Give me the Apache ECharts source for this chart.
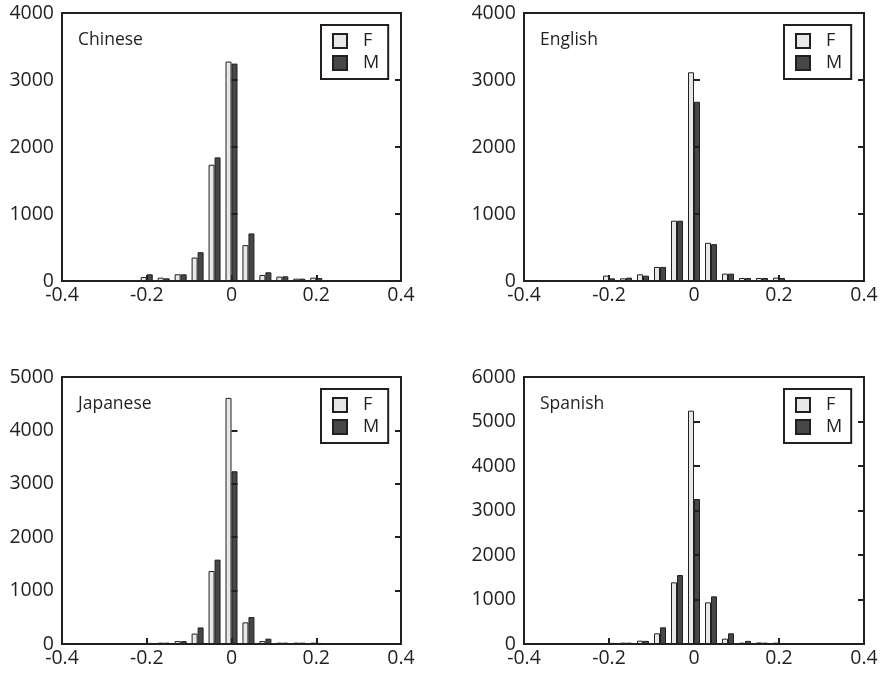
<!DOCTYPE html>
<html>
<head>
<meta charset="utf-8">
<script src="https://cdn.jsdelivr.net/npm/echarts@6/dist/echarts.min.js"></script>
<style>
  html, body { margin: 0; padding: 0; background: #ffffff; }
  #chart { width: 884px; height: 673px; }
</style>
</head>
<body>
<div id="chart"></div>
<script>
// Histogram bin centres (shared by all four panels)
const bins = [-0.2, -0.16, -0.12, -0.08, -0.04, 0, 0.04, 0.08, 0.12, 0.16, 0.2];
const xTicks = [-0.4, -0.2, 0, 0.2, 0.4];

// Panel names
const languages = ['Chinese', 'English', 'Japanese', 'Spanish'];

// Counts per bin, female (F) and male (M)
const chineseF  = [60, 50, 100, 350, 1735, 3275, 535, 90, 65, 35, 50];
const chineseM  = [100, 40, 100, 430, 1845, 3245, 710, 130, 70, 35, 45];
const englishF  = [80, 40, 100, 210, 900, 3115, 570, 110, 45, 45, 50];
const englishM  = [40, 50, 80, 210, 900, 2675, 550, 110, 45, 45, 45];
const japaneseF = [15, 25, 55, 195, 1367, 4608, 405, 55, 25, 25, 25];
const japaneseM = [20, 25, 55, 310, 1580, 3235, 505, 100, 25, 25, 20];
const spanishF  = [15, 30, 75, 240, 1385, 5243, 936, 120, 30, 35, 30];
const spanishM  = [25, 30, 70, 375, 1550, 3258, 1071, 240, 70, 30, 20];

// Upper limit of each panel's count axis
const yMax = [4000, 4000, 5000, 6000];

const seriesF = [chineseF, englishF, japaneseF, spanishF];
const seriesM = [chineseM, englishM, japaneseM, spanishM];

const ink = '#231f20';
const font = '"Open Sans", "DejaVu Sans", sans-serif';
const tickFont = 19.5;

// Plot rectangles for the 2x2 layout
const rects = [
  { left: 62,  top: 13,  width: 339, height: 268 },
  { left: 524, top: 13,  width: 340, height: 268 },
  { left: 62,  top: 377, width: 339, height: 267 },
  { left: 524, top: 377, width: 340, height: 267 }
];

const grid = [], xAxis = [], yAxis = [], series = [], legend = [], title = [];

rects.forEach(function (r, i) {
  grid.push({
    left: r.left, top: r.top, width: r.width, height: r.height,
    show: true, borderColor: ink, borderWidth: 2, backgroundColor: 'transparent'
  });

  xAxis.push({
    type: 'value', gridIndex: i, position: 'bottom',
    min: xTicks[0], max: xTicks[xTicks.length - 1], interval: 0.2,
    z: 5,
    axisLine: { show: false },
    axisTick: { show: true, inside: true, length: 6, lineStyle: { color: ink, width: 2 } },
    axisLabel: {
      show: true, margin: 4, color: ink, fontSize: tickFont, fontFamily: font,
      formatter: function (v) { return String(Math.round(v * 10) / 10); }
    },
    splitLine: { show: false }
  });

  const yCommon = {
    type: 'value', gridIndex: i, min: 0, max: yMax[i], interval: 1000, z: 5,
    axisLine: { show: false },
    axisTick: { show: true, inside: true, length: 6, lineStyle: { color: ink, width: 2 } },
    splitLine: { show: false }
  };
  yAxis.push(Object.assign({}, yCommon, {
    position: 'left',
    axisLabel: {
      show: true, margin: 8, color: ink, fontSize: tickFont, fontFamily: font,
      formatter: function (v) { return String(v); }
    }
  }));
  yAxis.push(Object.assign({}, yCommon, {
    position: 'right',
    axisLabel: { show: false }
  }));

  const fData = bins.map(function (b, k) { return [b, seriesF[i][k]]; });
  const mData = bins.map(function (b, k) { return [b, seriesM[i][k]]; });

  series.push({
    name: 'F', type: 'bar', xAxisIndex: i, yAxisIndex: i * 2,
    barWidth: 6, barGap: '0%', data: fData, silent: true,
    itemStyle: { color: '#e8e8e8', borderColor: ink, borderWidth: 1 }
  });
  series.push({
    name: 'M', type: 'bar', xAxisIndex: i, yAxisIndex: i * 2,
    barWidth: 6, barGap: '0%', data: mData, silent: true,
    itemStyle: { color: '#474747', borderColor: ink, borderWidth: 1 }
  });

  legend.push({
    data: ['F', 'M'],
    orient: 'vertical',
    left: r.left + r.width - 80,
    top: r.top + 12,
    padding: [7, 9, 7, 11],
    itemGap: 4,
    itemWidth: 14, itemHeight: 14,
    icon: 'rect',
    borderColor: ink, borderWidth: 2,
    selectedMode: false,
    itemStyle: { borderColor: ink, borderWidth: 2 },
    textStyle: { color: ink, fontSize: 18, fontFamily: font, lineHeight: 14, padding: [0, 0, 0, 11] }
  });

  title.push({
    text: languages[i],
    left: r.left + 16, top: r.top + 18,
    padding: 0,
    textStyle: { color: ink, fontSize: 17.5, fontWeight: 'normal', fontFamily: font }
  });
});

const chart = echarts.init(document.getElementById('chart'), null, { renderer: 'canvas' });
chart.setOption({
  animation: false,
  backgroundColor: '#ffffff',
  grid: grid, xAxis: xAxis, yAxis: yAxis, series: series, legend: legend, title: title
});
</script>
</body>
</html>
